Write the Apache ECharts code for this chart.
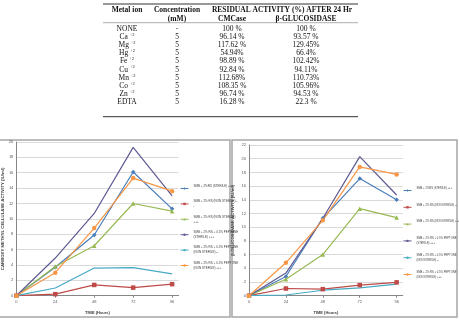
<!DOCTYPE html>
<html>
<head>
<meta charset="utf-8">
<script src="https://cdn.jsdelivr.net/npm/echarts@6/dist/echarts.min.js"></script>
<style>
  html, body { margin: 0; padding: 0; background: #fff; }
  #main { width: 459px; height: 320px; }
</style>
</head>
<body>
<div id="main"></div>
<script>
// table data
const metals = ['NONE', 'Ca', 'Mg', 'Hg', 'Fe', 'Cu', 'Mn', 'Co', 'Zn', 'EDTA'];
const charges = ['', '+2', '+2', '+2', '+2', '+2', '+2', '+2', '+2', ''];
const concentrations = ['-', '5', '5', '5', '5', '5', '5', '5', '5', '5'];
const cmcaseActivity = ['100 %', '96.14 %', '117.62 %', '54.94%', '98.89 %', '92.84 %', '112.68%', '108.35 %', '96.74 %', '16.28 %'];
const glucosidaseActivity = ['100 %', '93.57 %', '129.45%', '66.4%', '102.42%', '94.11%', '110.73%', '105.96%', '94.53 %', '22.3 %'];

// chart data
const hours = [0, 24, 48, 72, 96];
const seriesNames = [
  'SMB + 2%RS (STERILE) +++',
  'SMB + 2% RS (NON STERILE) --',
  'SMB + 2% RS (NON STERILE) +++',
  'SMB + 2% RS + 0.5% PEPTONE\n(STERILE) +++',
  'SMB + 2% RS + 0.5% PEPTONE\n(NON STERILE) --',
  'SMB + 2% RS + 0.5% PEPTONE\n(NON STERILE) +++'
];
const cmcSterile = [0, 3.7, 7.9, 16.1, 11.3];
const cmcNonSterileLow = [0, 0.2, 1.4, 1.05, 1.5];
const cmcNonSterile = [0, 3.8, 6.5, 12.0, 11.0];
const cmcPeptoneSterile = [0, 4.9, 10.7, 19.3, 13.0];
const cmcPeptoneNonSterileLow = [0, 1.0, 3.6, 3.65, 2.85];
const cmcPeptoneNonSterile = [0, 3.0, 8.8, 15.3, 13.6];

const bgSterile = [0, 2.8, 11.3, 17.1, 14.0];
const bgNonSterileLow = [0, 1.05, 0.95, 1.55, 1.95];
const bgNonSterile = [0, 2.4, 6.0, 12.7, 11.4];
const bgPeptoneSterile = [0, 3.3, 11.3, 20.3, 14.7];
const bgPeptoneNonSterileLow = [0, 0.1, 0.8, 1.15, 1.7];
const bgPeptoneNonSterile = [0, 4.8, 11.0, 18.8, 17.7];

const colors = ['#4a7ebb', '#be4b48', '#98b954', '#5d5a92', '#46aac5', '#f79646'];
const marks = ['diamond', 'rect', 'triangle', 'none', 'none', 'circle'];

const chart = echarts.init(document.getElementById('main'));

function lineSeries(vals, k, gi) {
  return {
    name: seriesNames[k],
    type: 'line',
    xAxisIndex: gi,
    yAxisIndex: gi,
    data: vals.map((v, i) => [hours[i], v]),
    symbol: marks[k],
    symbolSize: 4.5,
    lineStyle: { color: colors[k], width: 1.2 },
    itemStyle: { color: colors[k] },
    emphasis: { disabled: true },
    animation: false
  };
}

function xAxis(gi) {
  return {
    type: 'value', gridIndex: gi, min: 0, max: 100, interval: 24,
    name: 'TIME (Hours)', nameLocation: 'middle', nameGap: 15,
    nameTextStyle: { fontSize: 4, fontWeight: 'bold', color: '#404040' },
    axisLine: { lineStyle: { color: '#868686', width: 1 } },
    axisTick: { show: true, length: 2, lineStyle: { color: '#868686' } },
    axisLabel: { fontSize: 4, color: '#595959', margin: 4, showMaxLabel: false },
    splitLine: { show: false }
  };
}

function yAxis(gi, max, title, gap) {
  return {
    type: 'value', gridIndex: gi, min: 0, max: max, interval: 2,
    name: title, nameLocation: 'middle', nameGap: gap,
    nameTextStyle: { fontSize: 4.3, fontWeight: 'bold', color: '#404040' },
    axisLine: { show: true, lineStyle: { color: '#868686', width: 1 } },
    axisTick: { show: false },
    axisLabel: { fontSize: 4, color: '#595959', margin: 3 },
    splitLine: { lineStyle: { color: '#d9d9d9', width: 1 } }
  };
}

function legend(left, top, gap, size, wrap) {
  return {
    orient: 'vertical', left: left, top: top, itemGap: gap,
    itemWidth: 8, itemHeight: 3, padding: 0,
    data: seriesNames,
    lineStyle: { width: 1 },
    formatter: name => wrap[name] || (name.indexOf('\n') < 0 ? name + '\n ' : name),
    textStyle: { fontSize: size, lineHeight: 5, color: '#404040' }
  };
}

// table text as graphic elements
const serif = 'Liberation Serif, Times New Roman, serif';
const tableCols = [127, 177, 232, 306];
const rowY = i => 28.7 + i * 8.2;
const tableGraphics = [];
function cell(x, y, text, bold, rich) {
  tableGraphics.push({
    type: 'text', x: x, y: y, silent: true,
    style: {
      text: text, fontFamily: serif, fontSize: 7.5, fontWeight: bold ? 'bold' : 'normal',
      fill: '#111', align: 'center', verticalAlign: 'middle', rich: rich
    }
  });
}
cell(tableCols[0], 10, 'Metal ion', true);
cell(tableCols[1], 10, 'Concentration', true);
cell(282, 10, 'RESIDUAL ACTIVITY (%) AFTER 24 Hr', true);
cell(tableCols[1], 19, '(mM)', true);
cell(tableCols[2], 19, 'CMCase', true);
cell(tableCols[3], 19, 'β-GLUCOSIDASE', true);
metals.forEach((m, i) => {
  const y = rowY(i);
  if (charges[i]) {
    cell(tableCols[0], y, '{n|' + m + ' }{s|' + charges[i] + '}', false, {
      n: { fontFamily: serif, fontSize: 7.5, fill: '#111' },
      s: { fontFamily: serif, fontSize: 4.5, fill: '#111', verticalAlign: 'top', padding: [0, 0, 5, 0] }
    });
  } else {
    cell(tableCols[0], y, m, false);
  }
  cell(tableCols[1], y, concentrations[i], false);
  cell(tableCols[2], y, cmcaseActivity[i], false);
  cell(tableCols[3], y, glucosidaseActivity[i], false);
});
[[4, 1, '#333'], [22.7, 0.6, '#777'], [116.7, 1, '#333']].forEach(r => {
  tableGraphics.push({
    type: 'line', silent: true,
    shape: { x1: 103, y1: r[0], x2: 358, y2: r[0] },
    style: { stroke: r[2], lineWidth: r[1] }
  });
});
// chart frames
tableGraphics.push(
  { type: 'rect', silent: true, shape: { x: -2, y: 140, width: 232, height: 177 },
    style: { fill: 'none', stroke: '#a6a6a6', lineWidth: 1.5 } },
  { type: 'rect', silent: true, shape: { x: 232, y: 140, width: 225, height: 177 },
    style: { fill: 'none', stroke: '#a6a6a6', lineWidth: 1.5 } }
);

const leftWrap = {
  'SMB + 2% RS (NON STERILE) --': 'SMB + 2% RS (NON STERILE) -\n-',
  'SMB + 2% RS (NON STERILE) +++': 'SMB + 2% RS (NON STERILE)\n+++'
};

chart.setOption({
  backgroundColor: '#fff',
  animation: false,
  graphic: tableGraphics,
  grid: [
    { left: 14, top: 142, width: 164.6, height: 153.7 },
    { left: 249, top: 145, width: 153.8, height: 150.7 }
  ],
  xAxis: [xAxis(0), xAxis(1)],
  yAxis: [
    yAxis(0, 20, 'CARBOXY METHYL CELLULASE ACTIVITY (IU/ml)', 10),
    yAxis(1, 22, 'β-GLUCOSIDASE ACTIVITY (IU/ml)', 14)
  ],
  legend: [
    legend(180, 183.5, 5.4, 3, leftWrap),
    legend(403, 185.5, 6.8, 2.7, {})
  ],
  series: [
    lineSeries(cmcSterile, 0, 0),
    lineSeries(cmcNonSterileLow, 1, 0),
    lineSeries(cmcNonSterile, 2, 0),
    lineSeries(cmcPeptoneSterile, 3, 0),
    lineSeries(cmcPeptoneNonSterileLow, 4, 0),
    lineSeries(cmcPeptoneNonSterile, 5, 0),
    lineSeries(bgSterile, 0, 1),
    lineSeries(bgNonSterileLow, 1, 1),
    lineSeries(bgNonSterile, 2, 1),
    lineSeries(bgPeptoneSterile, 3, 1),
    lineSeries(bgPeptoneNonSterileLow, 4, 1),
    lineSeries(bgPeptoneNonSterile, 5, 1)
  ]
});
</script>
</body>
</html>
